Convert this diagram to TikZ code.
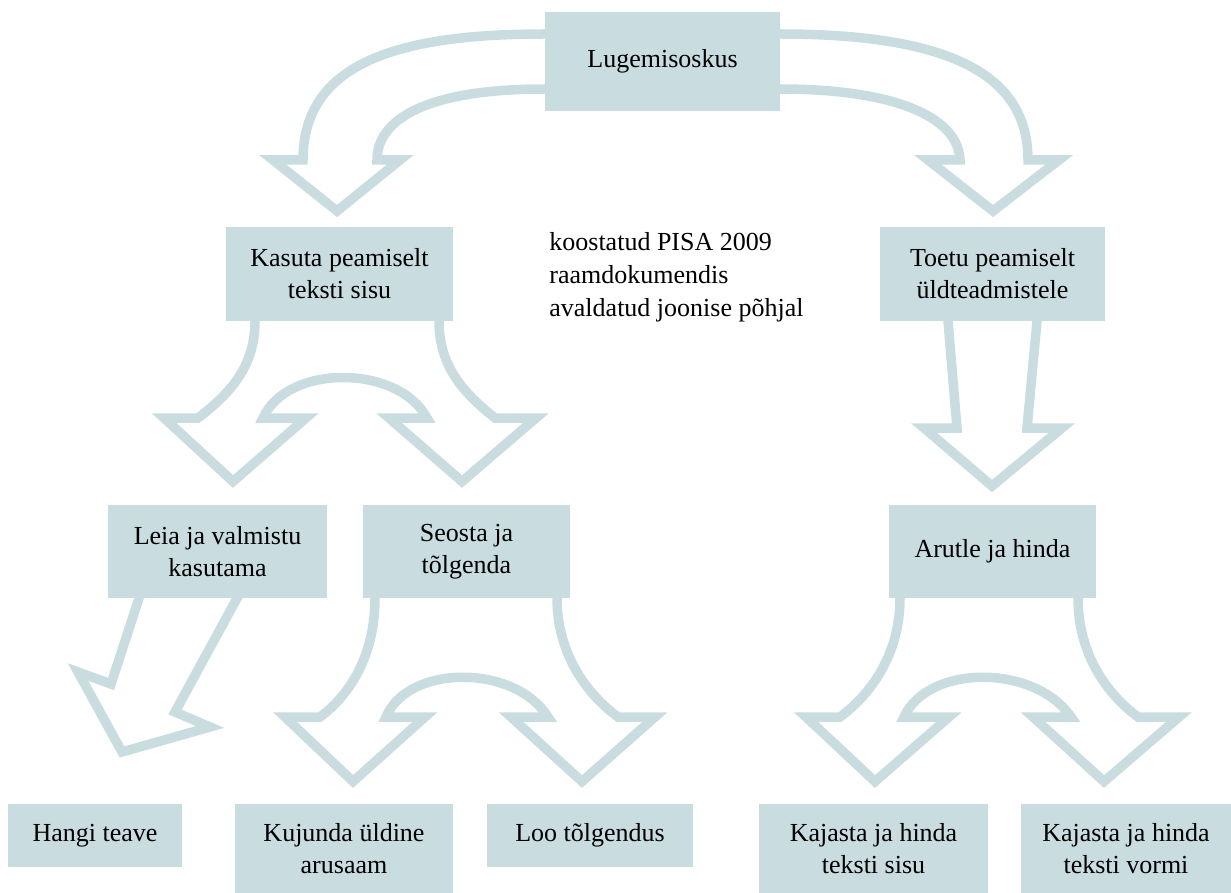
\documentclass[tikz,border=0pt]{standalone}
\usepackage{fontspec}
\setmainfont{Liberation Serif}
\usetikzlibrary{positioning,backgrounds}
\definecolor{boxblue}{RGB}{201,220,223}
\tikzset{
	box/.style={fill=boxblue, inner sep=0pt, align=center, font=\fontsize{26}{32}\selectfont},
	blockarrow/.style={draw=boxblue, line width=9.5pt, line join=miter, line cap=rect},
	note/.style={inner sep=0pt, align=left, font=\fontsize{26}{33}\selectfont}
}

\begin{document}
\begin{tikzpicture}[x=1pt, y=-1pt]
	\useasboundingbox (0,0) rectangle (1231,893);
	\node [box, minimum width=235pt, minimum height=99pt] (lugem) at (662.5,61.5) {Lugemisoskus};
	\node [box, on grid, minimum width=227pt, minimum height=94pt, below left=212.5pt and 323pt of lugem] (kasuta) {Kasuta peamiselt\\teksti sisu};
	\node [box, on grid, minimum width=225pt, minimum height=94pt, below right=212.5pt and 330pt of lugem] (toetu) {Toetu peamiselt\\üldteadmistele};
	\node [box, on grid, minimum width=219pt, minimum height=93pt, below left=277.5pt and 122pt of kasuta] (leia) {Leia ja valmistu\\kasutama};
	\node [box, on grid, minimum width=207pt, minimum height=93pt, below right=277.5pt and 127pt of kasuta] (seosta) {Seosta ja\\tõlgenda};
	\node [box, on grid, minimum width=207pt, minimum height=93pt, below=277.5pt of toetu] (arutle) {Arutle ja hinda};
	\node [box, on grid, minimum width=174pt, minimum height=63pt, below left=284pt and 122.5pt of leia] (hangi) {Hangi teave};
	\node [box, on grid, minimum width=218pt, minimum height=89pt, below left=297pt and 122.5pt of seosta] (kujunda) {Kujunda üldine\\arusaam};
	\node [box, on grid, minimum width=206pt, minimum height=63pt, below right=284pt and 123.5pt of seosta] (loo) {Loo tõlgendus};
	\node [box, on grid, minimum width=229pt, minimum height=89pt, below left=297pt and 119pt of arutle] (kajsisu) {Kajasta ja hinda\\teksti sisu};
	\node [box, on grid, minimum width=210pt, minimum height=89pt, below right=297pt and 133.5pt of arutle] (kajvorm) {Kajasta ja hinda\\teksti vormi};
	\node [note, right=96pt of kasuta, yshift=-3pt] (allikas) {koostatud PISA 2009\\raamdokumendis\\avaldatud joonise põhjal};
	%
	\begin{scope}[on background layer]
		\draw [blockarrow] ([yshift=27.5pt]lugem.west) .. controls (400,34) and (303,62) .. (303,160) -- (273,160) -- (337,211) -- (400,160) -- (377,160) .. controls (377,120) and (425,89) .. ([yshift=-27.5pt]lugem.west);
		\draw [blockarrow] ([yshift=27.5pt]lugem.east) .. controls (960,34) and (1028,80) .. (1028,160) -- (1059,160) -- (993,211) -- (928,160) -- (960,160) .. controls (958,115) and (890,89) .. ([yshift=-27.5pt]lugem.east);
		\draw [blockarrow] ([xshift=-84.5pt]kasuta.south) .. controls (255,365) and (232,392) .. (198,418) -- (164,418) -- (233,481.5) -- (306,418) -- (263,418) .. controls (287,364) and (398,364) .. (427,418) -- (389,418) -- (462,481.5) -- (536,418) -- (495,418) .. controls (462,392) and (439,365) .. ([xshift=99.5pt]kasuta.south);
		\draw [blockarrow] ([xshift=-44.5pt]toetu.south) -- (957,428) -- (924,428) -- (992,486) -- (1062,428) -- (1027,428) -- ([xshift=44.5pt]toetu.south);
		\draw [blockarrow] ([xshift=-78.5pt]leia.south) -- (111,684) -- (78,672) -- (122,752) -- (210,727) -- (175,712) -- ([xshift=19.5pt]leia.south);
		\draw [blockarrow] ([xshift=-91.5pt]seosta.south) .. controls (375,655) and (350,695) .. (320,717) -- (285,717) -- (353,781.5) -- (425,717) -- (386,717) .. controls (408,664) and (515,664) .. (548,717) -- (511,717) -- (582,781.5) -- (655,717) -- (618,717) .. controls (588,695) and (557,655) .. ([xshift=90.5pt]seosta.south);
		\draw [blockarrow] ([xshift=-92.5pt]arutle.south) .. controls (900,655) and (870,695) .. (840,717) -- (806,717) -- (875,781.5) -- (949,717) -- (904,717) .. controls (928,664) and (1035,664) .. (1071,717) -- (1033,717) -- (1104,781.5) -- (1179,717) -- (1138,717) .. controls (1108,695) and (1078,655) .. ([xshift=85.5pt]arutle.south);
	\end{scope}
\end{tikzpicture}
\end{document}
